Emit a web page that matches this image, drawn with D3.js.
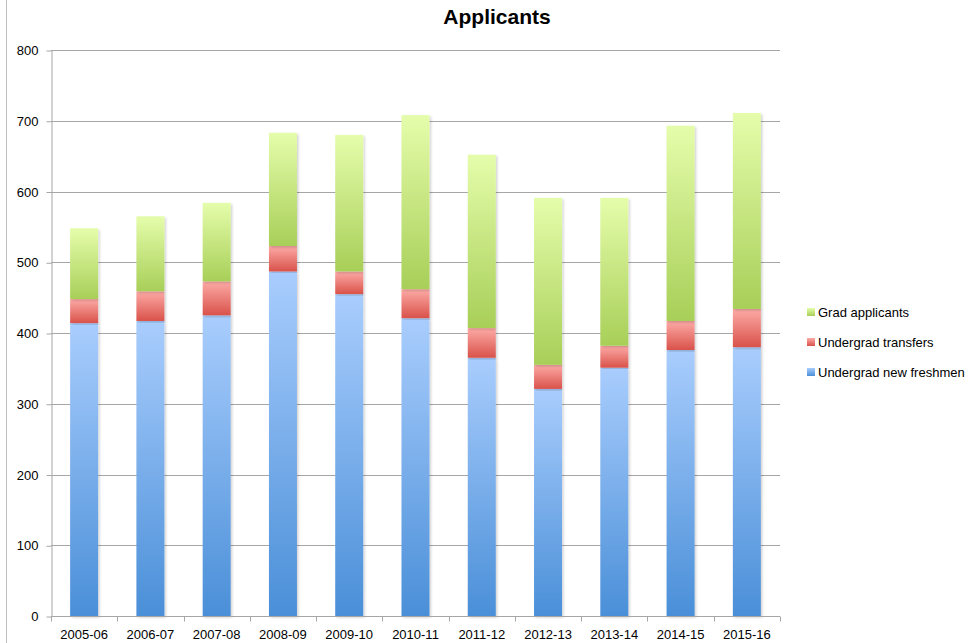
<!DOCTYPE html>
<html>
<head>
<meta charset="utf-8">
<script src="https://cdn.jsdelivr.net/npm/d3@7"></script>
<style>
  body { margin: 0; background: #fff; }
  text { font-family: "Liberation Sans", Arial, sans-serif; fill: #000; }
</style>
</head>
<body>
<div id="vis_container"></div>
<script>
// chart values
var years = ["2005-06", "2006-07", "2007-08", "2008-09", "2009-10", "2010-11",
             "2011-12", "2012-13", "2013-14", "2014-15", "2015-16"];
var freshmen  = [414, 417, 425, 487, 455, 421, 365, 321, 351, 376, 380];
var transfers = [34, 42, 48, 36, 32, 41, 42, 34, 31, 41, 54];
var grad      = [100, 106, 111, 160, 193, 246, 245, 236, 209, 276, 277];
var seriesNames = ["Undergrad new freshmen", "Undergrad transfers", "Grad applicants"];
var yTicks = [0, 100, 200, 300, 400, 500, 600, 700, 800];

var width = 979, height = 643;
var plotLeft = 51, plotRight = 780, plotTop = 50, plotBottom = 616;

var rows = years.map(function(y, i) {
    return { year: y, fresh: freshmen[i], trans: transfers[i], grad: grad[i] };
});
var stack = d3.stack().keys(["fresh", "trans", "grad"])(rows);

var x = d3.scaleBand().domain(years).range([plotLeft, plotRight]).paddingInner(0).paddingOuter(0);
var y = d3.scaleLinear().domain([0, 800]).range([plotBottom, plotTop]);

var colors = [
    { id: "gBlue",  top: "#a9cdfd", bot: "#4a8fd8" },
    { id: "gRed",   top: "#fdaba7", bot: "#d9524a" },
    { id: "gGreen", top: "#e5fdab", bot: "#a8cf58" }
];

var svg = d3.select("#vis_container").append("svg")
    .attr("width", width)
    .attr("height", height);

var defs = svg.append("defs");
colors.forEach(function(c) {
    var g = defs.append("linearGradient").attr("id", c.id)
        .attr("x1", 0).attr("y1", 0).attr("x2", 0).attr("y2", 1);
    g.append("stop").attr("offset", "0%").attr("stop-color", c.top);
    g.append("stop").attr("offset", "100%").attr("stop-color", c.bot);
});
var f = defs.append("filter").attr("id", "shadow")
    .attr("x", "-30%").attr("y", "-5%").attr("width", "160%").attr("height", "110%");
f.append("feDropShadow").attr("dx", 1.5).attr("dy", 1.5).attr("stdDeviation", 1.2)
    .attr("flood-color", "#000").attr("flood-opacity", 0.18);

// left border line
svg.append("line")
    .attr("x1", 6.5).attr("x2", 6.5).attr("y1", 0).attr("y2", height)
    .style("stroke", "#bdbdbd").style("stroke-width", 1);

// gridlines
svg.append("g").selectAll("line").data(yTicks.slice(1)).enter().append("line")
    .attr("x1", plotLeft).attr("x2", plotRight)
    .attr("y1", function(d) { return Math.round(y(d)) + 0.5; })
    .attr("y2", function(d) { return Math.round(y(d)) + 0.5; })
    .style("stroke", "#a6a6a6").style("stroke-width", 1);

// y axis
var yAxis = svg.append("g")
    .attr("transform", "translate(" + (plotLeft + 0.5) + ",0.5)")
    .call(d3.axisLeft(y).tickValues(yTicks).tickSize(5).tickPadding(8).tickSizeOuter(0));
yAxis.select(".domain").style("stroke", "#a6a6a6");
yAxis.selectAll(".tick line").style("stroke", "#a6a6a6");
yAxis.selectAll("text").style("font-size", "13px").style("font-family", "Liberation Sans, Arial, sans-serif").attr("fill", "#000");

// bars
var layer = svg.append("g").selectAll("g").data(stack).enter().append("g")
    .attr("fill", function(d, i) { return "url(#" + colors[i].id + ")"; });

var barW = 28;
layer.selectAll("rect").data(function(d) { return d; }).enter().append("rect")
    .attr("x", function(d) { return x(d.data.year) + (x.bandwidth() - barW) / 2; })
    .attr("width", barW)
    .attr("y", function(d) { return y(d[1]); })
    .attr("height", function(d) { return y(d[0]) - y(d[1]); })
    .attr("filter", "url(#shadow)");

// x axis
var xAxis = svg.append("g")
    .attr("transform", "translate(0," + (plotBottom + 0.5) + ")");
xAxis.append("line")
    .attr("x1", plotLeft).attr("x2", plotRight).attr("y1", 0).attr("y2", 0)
    .style("stroke", "#a6a6a6");
var bounds = years.map(function(d) { return x(d); }).concat([plotRight]);
xAxis.selectAll(".tk").data(bounds).enter().append("line")
    .attr("class", "tk")
    .attr("x1", function(d) { return Math.round(d) + 0.5; })
    .attr("x2", function(d) { return Math.round(d) + 0.5; })
    .attr("y1", 0).attr("y2", 5)
    .style("stroke", "#a6a6a6");
xAxis.selectAll(".lbl").data(years).enter().append("text")
    .attr("class", "lbl")
    .attr("x", function(d) { return x(d) + x.bandwidth() / 2; })
    .attr("y", 22)
    .style("text-anchor", "middle")
    .style("font-size", "13px")
    .text(function(d) { return d; });

// title
svg.append("text")
    .attr("x", 497).attr("y", 24)
    .style("text-anchor", "middle")
    .style("font-size", "21px")
    .style("font-weight", "bold")
    .text("Applicants");

// legend (top to bottom: grad, transfers, freshmen)
var legendItems = [2, 1, 0];
var legend = svg.append("g").selectAll("g").data(legendItems).enter().append("g")
    .attr("transform", function(d, i) { return "translate(807," + (308 + i * 30) + ")"; });
legend.append("rect")
    .attr("width", 8).attr("height", 8)
    .attr("fill", function(d) { return "url(#" + colors[d].id + ")"; });
legend.append("text")
    .attr("x", 11).attr("y", 9)
    .style("font-size", "13px")
    .text(function(d) { return seriesNames[d]; });
</script>
</body>
</html>
